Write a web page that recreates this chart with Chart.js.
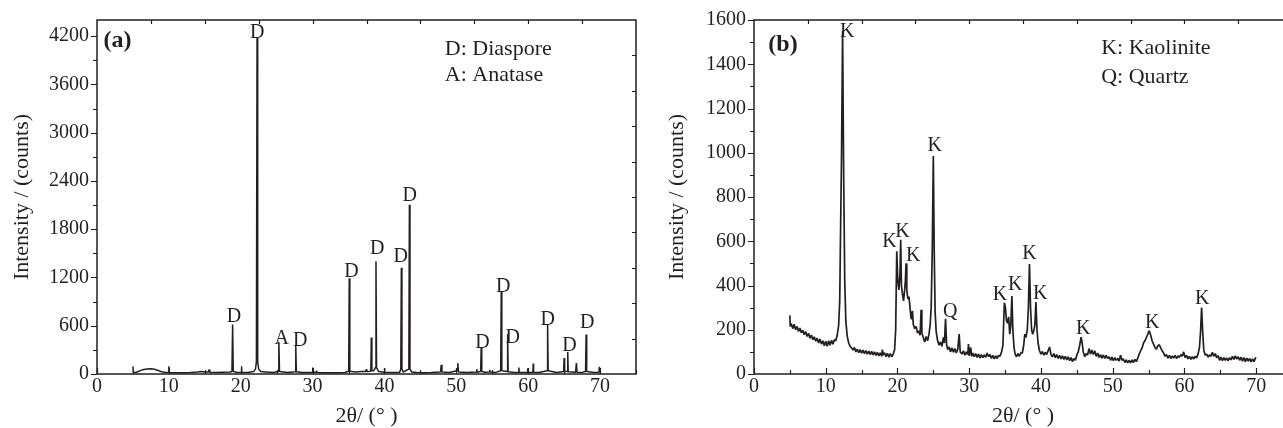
<!DOCTYPE html>
<html>
<head>
<meta charset="utf-8">
<script src="https://cdn.jsdelivr.net/npm/chart.js@4/dist/chart.umd.min.js"></script>
<style>
  html, body { margin: 0; padding: 0; background: #fff; overflow: hidden; width: 1283px; height: 428px; }
  #wrapA { position: absolute; left: 0; top: 0; width: 650px; height: 428px; }
  #wrapB { position: absolute; left: 650px; top: 0; width: 645px; height: 428px; }
</style>
</head>
<body>
<div id="wrapA"><canvas id="plotA"></canvas></div>
<div id="wrapB"><canvas id="plotB"></canvas></div>
<script>
const ink = '#231f20'
const serif = '"Liberation Serif", "Times New Roman", serif'

const xTicks = [0, 10, 20, 30, 40, 50, 60, 70]

// (a) diaspore sample
const aTheta = [
    5.0, 5.05, 5.5, 6.0, 6.5, 7.0, 7.5, 8.0, 8.5, 9.0,
    9.5, 9.95, 10.0, 10.05, 11.0, 12.0, 13.0, 14.0, 14.5, 15.0,
    15.5, 15.6, 15.7, 16.5, 17.5, 18.5, 18.78, 18.87, 18.96, 19.5,
    20.05, 20.1, 20.15, 21.0, 21.8, 22.05, 22.18, 22.27, 22.36, 22.5,
    22.8, 23.5, 24.5, 25.2, 25.3, 25.4, 26.5, 27.58, 27.66, 27.74,
    28.5, 29.5, 29.95, 30.0, 30.05, 30.5, 30.55, 30.6, 31.5, 32.5,
    33.5, 34.5, 35.02, 35.1, 35.18, 36.0, 36.8, 37.4, 37.5, 37.6,
    38.1, 38.17, 38.25, 38.5, 38.74, 38.82, 38.9, 39.2, 39.95, 40.0,
    40.05, 41.0, 42.1, 42.27, 42.35, 42.43, 42.6, 43.39, 43.47, 43.55,
    43.8, 44.5, 45.5, 46.5, 47.8, 47.9, 48.0, 49.0, 50.1, 50.2,
    50.3, 51.5, 52.8, 52.85, 52.9, 53.38, 53.46, 53.54, 54.0, 54.6,
    54.65, 54.7, 55.5, 56.17, 56.25, 56.33, 57.07, 57.14, 57.21, 58.0,
    58.65, 58.7, 58.75, 59.85, 59.9, 59.95, 60.65, 60.7, 60.75, 61.5,
    62.62, 62.7, 62.78, 64.0, 64.93, 65.0, 65.07, 65.43, 65.5, 65.57,
    66.6, 66.7, 66.8, 67.5, 67.98, 68.06, 68.14, 69.0, 69.85, 69.9,
    70.0
]
const aCounts = [
    95, 20, 22, 42, 55, 62, 64, 58, 44, 28,
    20, 18, 95, 18, 14, 16, 20, 26, 32, 24,
    24, 55, 22, 20, 22, 24, 30, 615, 30, 20,
    22, 95, 22, 20, 30, 60, 150, 4180, 150, 60,
    30, 26, 20, 30, 400, 30, 18, 28, 350, 28,
    18, 18, 20, 80, 22, 22, 45, 20, 15, 16,
    15, 18, 35, 1190, 35, 25, 30, 30, 60, 30,
    35, 455, 40, 40, 80, 1400, 80, 30, 22, 75,
    22, 18, 20, 60, 1320, 60, 25, 60, 2105, 60,
    25, 20, 15, 18, 25, 115, 25, 20, 40, 135,
    25, 18, 25, 60, 22, 30, 325, 30, 22, 25,
    50, 25, 20, 40, 1025, 40, 30, 495, 28, 20,
    20, 80, 20, 20, 70, 20, 22, 130, 22, 18,
    40, 620, 40, 20, 30, 200, 30, 30, 275, 28,
    22, 135, 22, 20, 30, 490, 30, 22, 20, 90,
    20
]
const aYTicks = [0, 600, 1200, 1800, 2400, 3000, 3600, 4200]
const aPeakText = ['D', 'D', 'A', 'D', 'D', 'D', 'D', 'D', 'D', 'D', 'D', 'D', 'D', 'D']
const aPeakX = [19.06, 22.3, 25.7, 28.27, 35.4, 39.0, 42.26, 43.53, 53.65, 56.54, 57.83, 62.72, 65.73, 68.2]
const aPeakY = [708, 4240, 440, 419, 1270, 1554, 1453, 2214, 394, 1087, 455, 680, 354, 638]
const aKey = ['D: Diaspore', 'A: Anatase']
const aKeyY = [4038, 3715]

// (b) kaolinite sample
const bTheta = [
    5.0, 5.05, 5.2, 5.4, 5.6, 5.8, 6.0, 6.2, 6.4, 6.6,
    6.8, 7.0, 7.2, 7.4, 7.6, 7.8, 8.0, 8.2, 8.4, 8.6,
    8.8, 9.0, 9.2, 9.4, 9.6, 9.8, 10.0, 10.2, 10.4, 10.6,
    10.8, 11.0, 11.2, 11.4, 11.6, 11.8, 11.95, 12.05, 12.2, 12.35,
    12.5, 12.65, 12.8, 13.0, 13.2, 13.4, 13.6, 13.8, 14.0, 14.2,
    14.4, 14.6, 14.8, 15.0, 15.2, 15.4, 15.6, 15.8, 16.0, 16.2,
    16.4, 16.6, 16.8, 17.0, 17.2, 17.4, 17.6, 17.8, 17.9, 18.0,
    18.2, 18.4, 18.6, 18.8, 19.0, 19.2, 19.4, 19.6, 19.75, 19.9,
    20.05, 20.2, 20.35, 20.45, 20.55, 20.7, 20.85, 21.0, 21.1, 21.2,
    21.3, 21.45, 21.6, 21.75, 21.9, 22.0, 22.1, 22.2, 22.4, 22.6,
    22.8, 23.0, 23.15, 23.3, 23.4, 23.6, 23.8, 24.0, 24.2, 24.4,
    24.55, 24.7, 24.85, 25.0, 25.12, 25.25, 25.4, 25.6, 25.8, 26.0,
    26.2, 26.4, 26.55, 26.7, 26.85, 27.0, 27.2, 27.4, 27.6, 27.8,
    28.0, 28.2, 28.4, 28.6, 28.75, 29.0, 29.2, 29.4, 29.6, 29.8,
    29.9, 30.0, 30.2, 30.35, 30.5, 30.7, 30.9, 31.1, 31.3, 31.5,
    31.7, 31.9, 32.1, 32.3, 32.5, 32.7, 32.9, 33.1, 33.3, 33.5,
    33.7, 33.9, 34.1, 34.3, 34.5, 34.7, 34.9, 35.05, 35.2, 35.35,
    35.5, 35.65, 35.8, 35.95, 36.1, 36.25, 36.4, 36.6, 36.8, 37.0,
    37.2, 37.4, 37.6, 37.75, 37.9, 38.1, 38.25, 38.4, 38.55, 38.7,
    38.85, 39.0, 39.15, 39.3, 39.45, 39.6, 39.8, 40.0, 40.2, 40.4,
    40.6, 40.8, 41.0, 41.2, 41.4, 41.6, 41.8, 42.0, 42.2, 42.4,
    42.6, 42.8, 43.0, 43.2, 43.4, 43.6, 43.8, 44.0, 44.2, 44.4,
    44.6, 44.8, 45.0, 45.2, 45.4, 45.6, 45.75, 45.9, 46.1, 46.3,
    46.5, 46.7, 46.9, 47.1, 47.3, 47.5, 47.7, 47.9, 48.1, 48.3,
    48.5, 48.7, 48.9, 49.1, 49.3, 49.5, 49.7, 49.9, 50.1, 50.3,
    50.5, 50.7, 50.9, 51.1, 51.3, 51.5, 51.7, 51.9, 52.1, 52.3,
    52.5, 52.7, 52.9, 53.1, 53.3, 53.5, 53.7, 53.9, 54.1, 54.3,
    54.5, 54.7, 54.9, 55.1, 55.3, 55.5, 55.7, 55.9, 56.1, 56.3,
    56.5, 56.7, 56.9, 57.1, 57.3, 57.5, 57.7, 57.9, 58.1, 58.3,
    58.5, 58.7, 58.9, 59.1, 59.3, 59.5, 59.7, 59.9, 60.1, 60.3,
    60.5, 60.7, 60.9, 61.1, 61.3, 61.5, 61.7, 61.9, 62.1, 62.25,
    62.4, 62.55, 62.7, 62.9, 63.1, 63.3, 63.5, 63.7, 63.9, 64.1,
    64.3, 64.5, 64.7, 64.9, 65.1, 65.3, 65.5, 65.7, 65.9, 66.1,
    66.3, 66.5, 66.7, 66.9, 67.1, 67.3, 67.5, 67.7, 67.9, 68.1,
    68.3, 68.5, 68.7, 68.9, 69.1, 69.3, 69.5, 69.7, 69.9, 70.0
]
const bCounts = [
    265, 215, 228, 205, 225, 200, 215, 192, 208, 186,
    198, 178, 192, 170, 184, 162, 176, 155, 168, 148,
    162, 140, 158, 135, 150, 128, 148, 125, 150, 130,
    152, 135, 155, 150, 175, 220, 330, 600, 980, 1550,
    900, 420, 240, 170, 140, 125, 118, 108, 120, 100,
    112, 96, 110, 94, 108, 92, 106, 90, 104, 88,
    102, 86, 100, 84, 98, 82, 96, 80, 110, 86,
    96, 78, 94, 76, 92, 78, 90, 110, 200, 555,
    420, 380, 450, 607, 400, 360, 330, 380, 420, 500,
    380, 340, 350, 300, 250, 270, 285, 225, 205, 215,
    185, 195, 175, 290, 185, 165, 145, 170, 150, 180,
    220, 300, 560, 985, 560, 280, 190, 150, 130, 145,
    125, 165, 140, 250, 135, 110, 122, 100, 118, 98,
    115, 95, 110, 180, 100, 90, 105, 85, 100, 88,
    135, 82, 120, 80, 95, 78, 92, 75, 90, 72,
    88, 74, 86, 76, 95, 78, 88, 70, 84, 68,
    82, 70, 84, 80, 98, 130, 322, 300, 240, 230,
    258, 180, 220, 352, 190, 120, 90, 78, 92, 80,
    96, 95, 130, 180, 165, 200, 300, 497, 300, 200,
    180, 195, 220, 325, 200, 140, 105, 90, 102, 85,
    98, 88, 105, 122, 88, 78, 92, 74, 88, 70,
    84, 68, 82, 66, 80, 64, 78, 60, 74, 56,
    70, 62, 85, 100, 130, 166, 140, 100, 78, 92,
    85, 115, 90, 108, 88, 105, 80, 95, 75, 88,
    72, 86, 70, 84, 70, 78, 62, 76, 60, 74,
    62, 70, 58, 85, 62, 68, 52, 64, 50, 62,
    50, 64, 52, 66, 56, 72, 90, 105, 118, 140,
    150, 165, 180, 196, 175, 150, 135, 120, 112, 128,
    132, 118, 105, 95, 80, 88, 72, 84, 70, 82,
    72, 84, 70, 82, 75, 88, 80, 100, 74, 84,
    68, 80, 66, 78, 68, 80, 72, 90, 120, 190,
    300, 190, 110, 85, 90, 76, 86, 80, 98, 80,
    92, 74, 82, 62, 76, 60, 74, 62, 72, 60,
    74, 64, 80, 66, 82, 68, 78, 62, 76, 58,
    74, 56, 72, 58, 70, 55, 68, 56, 72, 75
]
const bYTicks = [0, 200, 400, 600, 800, 1000, 1200, 1400, 1600]
const bPeakText = ['K', 'K', 'K', 'K', 'K', 'Q', 'K', 'K', 'K', 'K', 'K', 'K', 'K']
const bPeakX = [13.0, 18.9, 20.7, 22.2, 25.2, 27.35, 34.3, 36.4, 38.4, 39.9, 45.9, 55.5, 62.5]
const bPeakY = [1546, 600, 641, 534, 1030, 282, 359, 404, 545, 362, 203, 233, 341]
const bKey = ['K: Kaolinite', 'Q: Quartz']
const bKeyY = [1471, 1342]

// axis frame with ticks on all four sides
const framePlugin = {
    id: 'frame',
    afterDatasetsDraw(chart, args, o) {
        const { ctx, chartArea: a, scales: { x, y } } = chart
        ctx.save()
        ctx.strokeStyle = ink
        ctx.lineWidth = 1.2
        ctx.beginPath()
        for (let v = 0; v <= y.max; v += o.yMinor) {
            const py = Math.round(y.getPixelForValue(v)) + 0.5
            const len = v % o.yMajor === 0 ? 6 : 4
            ctx.moveTo(a.left - len, py)
            ctx.lineTo(a.left, py)
        }
        for (let v = 0; v <= x.max; v += 5) {
            const px = Math.round(x.getPixelForValue(v)) + 0.5
            const len = v % 10 === 0 ? 6 : 4
            ctx.moveTo(px, a.bottom)
            ctx.lineTo(px, a.bottom - len)
        }
        for (let v = x.max / 10; v < x.max; v += x.max / 10) {
            const px = Math.round(x.getPixelForValue(v)) + 0.5
            ctx.moveTo(px, a.top)
            ctx.lineTo(px, a.top + 4)
        }
        for (let v = y.max / 10; v < y.max; v += y.max / 10) {
            const py = Math.round(y.getPixelForValue(v)) + 0.5
            ctx.moveTo(a.right, py)
            ctx.lineTo(a.right - 4, py)
        }
        ctx.stroke()
        ctx.lineWidth = 1.5
        ctx.strokeRect(a.left, a.top, a.right - a.left, a.bottom - a.top)
        ctx.restore()
    }
}

// peak letters, phase key and panel tag
const notesPlugin = {
    id: 'notes',
    afterDraw(chart, args, o) {
        const { ctx, scales: { x, y } } = chart
        ctx.save()
        ctx.fillStyle = ink
        ctx.textBaseline = 'middle'
        ctx.textAlign = 'center'
        ctx.font = '20px ' + serif
        o.text.forEach((t, i) => {
            ctx.fillText(t, x.getPixelForValue(o.px[i]), y.getPixelForValue(o.py[i]))
        })
        ctx.textAlign = 'left'
        ctx.font = '22px ' + serif
        o.key.forEach((t, i) => {
            ctx.fillText(t, x.getPixelForValue(o.keyX), y.getPixelForValue(o.keyY[i]))
        })
        ctx.font = 'bold 24px ' + serif
        ctx.fillText(o.tag, x.getPixelForValue(o.tagX), y.getPixelForValue(o.tagY))
        ctx.restore()
    }
}

function makeChart(id, c) {
    const points = c.xs.map((v, i) => ({ x: v, y: c.ys[i] }))
    return new Chart(document.getElementById(id), {
        type: 'line',
        data: {
            datasets: [{
                data: points,
                borderColor: ink,
                borderWidth: c.lineWidth,
                borderJoinStyle: 'bevel',
                pointRadius: 0,
                tension: 0,
                fill: false
            }]
        },
        options: {
            responsive: true,
            maintainAspectRatio: false,
            animation: false,
            layout: { padding: { top: 14, right: c.padRight, left: 0, bottom: 0 } },
            plugins: {
                legend: { display: false },
                tooltip: { enabled: false },
                frame: { yMinor: c.yMinor, yMajor: c.yMajor },
                notes: {
                    text: c.peakText, px: c.peakX, py: c.peakY,
                    key: c.key, keyX: 48.4, keyY: c.keyY,
                    tag: c.tag, tagX: c.tagX, tagY: c.tagY
                }
            },
            scales: {
                x: {
                    type: 'linear',
                    min: 0,
                    max: 75,
                    grid: { display: false, drawTicks: false },
                    border: { display: false },
                    afterBuildTicks: s => { s.ticks = xTicks.map(v => ({ value: v })) },
                    afterFit: s => { s.height = 54 },
                    ticks: {
                        padding: 1,
                        color: ink,
                        maxRotation: 0,
                        autoSkip: false,
                        font: { family: serif, size: 20 },
                        callback: v => String(v)
                    },
                    title: {
                        display: true,
                        text: '2θ/ (° )',
                        color: ink,
                        font: { family: serif, size: 22, lineHeight: 1 },
                        padding: { top: 0, bottom: 1 }
                    }
                },
                y: {
                    type: 'linear',
                    min: 0,
                    max: c.yMax,
                    grid: { display: false, drawTicks: false },
                    border: { display: false },
                    afterBuildTicks: s => { s.ticks = c.yTicks.map(v => ({ value: v })) },
                    afterFit: s => { s.width = c.axisWidth },
                    ticks: {
                        padding: 8,
                        color: ink,
                        font: { family: serif, size: 20 },
                        callback: v => String(v)
                    },
                    title: {
                        display: true,
                        text: 'Intensity / (counts)',
                        color: ink,
                        font: { family: serif, size: 22, lineHeight: 1 },
                        padding: { top: c.titlePad, bottom: 0 }
                    }
                }
            }
        },
        plugins: [framePlugin, notesPlugin]
    })
}

const chartA = makeChart('plotA', {
    xs: aTheta, ys: aCounts, yMax: 4400, yTicks: aYTicks, yMinor: 300, yMajor: 600,
    axisWidth: 97, padRight: 14, titlePad: 11, lineWidth: 1.5,
    peakText: aPeakText, peakX: aPeakX, peakY: aPeakY,
    key: aKey, keyY: aKeyY, tag: '(a)', tagX: 0.9, tagY: 4143
})

const chartB = makeChart('plotB', {
    xs: bTheta, ys: bCounts, yMax: 1600, yTicks: bYTicks, yMinor: 100, yMajor: 200,
    axisWidth: 104, padRight: 3, titlePad: 16, lineWidth: 1.7,
    peakText: bPeakText, peakX: bPeakX, peakY: bPeakY,
    key: bKey, keyY: bKeyY, tag: '(b)', tagX: 2.0, tagY: 1487
})
</script>
</body>
</html>
